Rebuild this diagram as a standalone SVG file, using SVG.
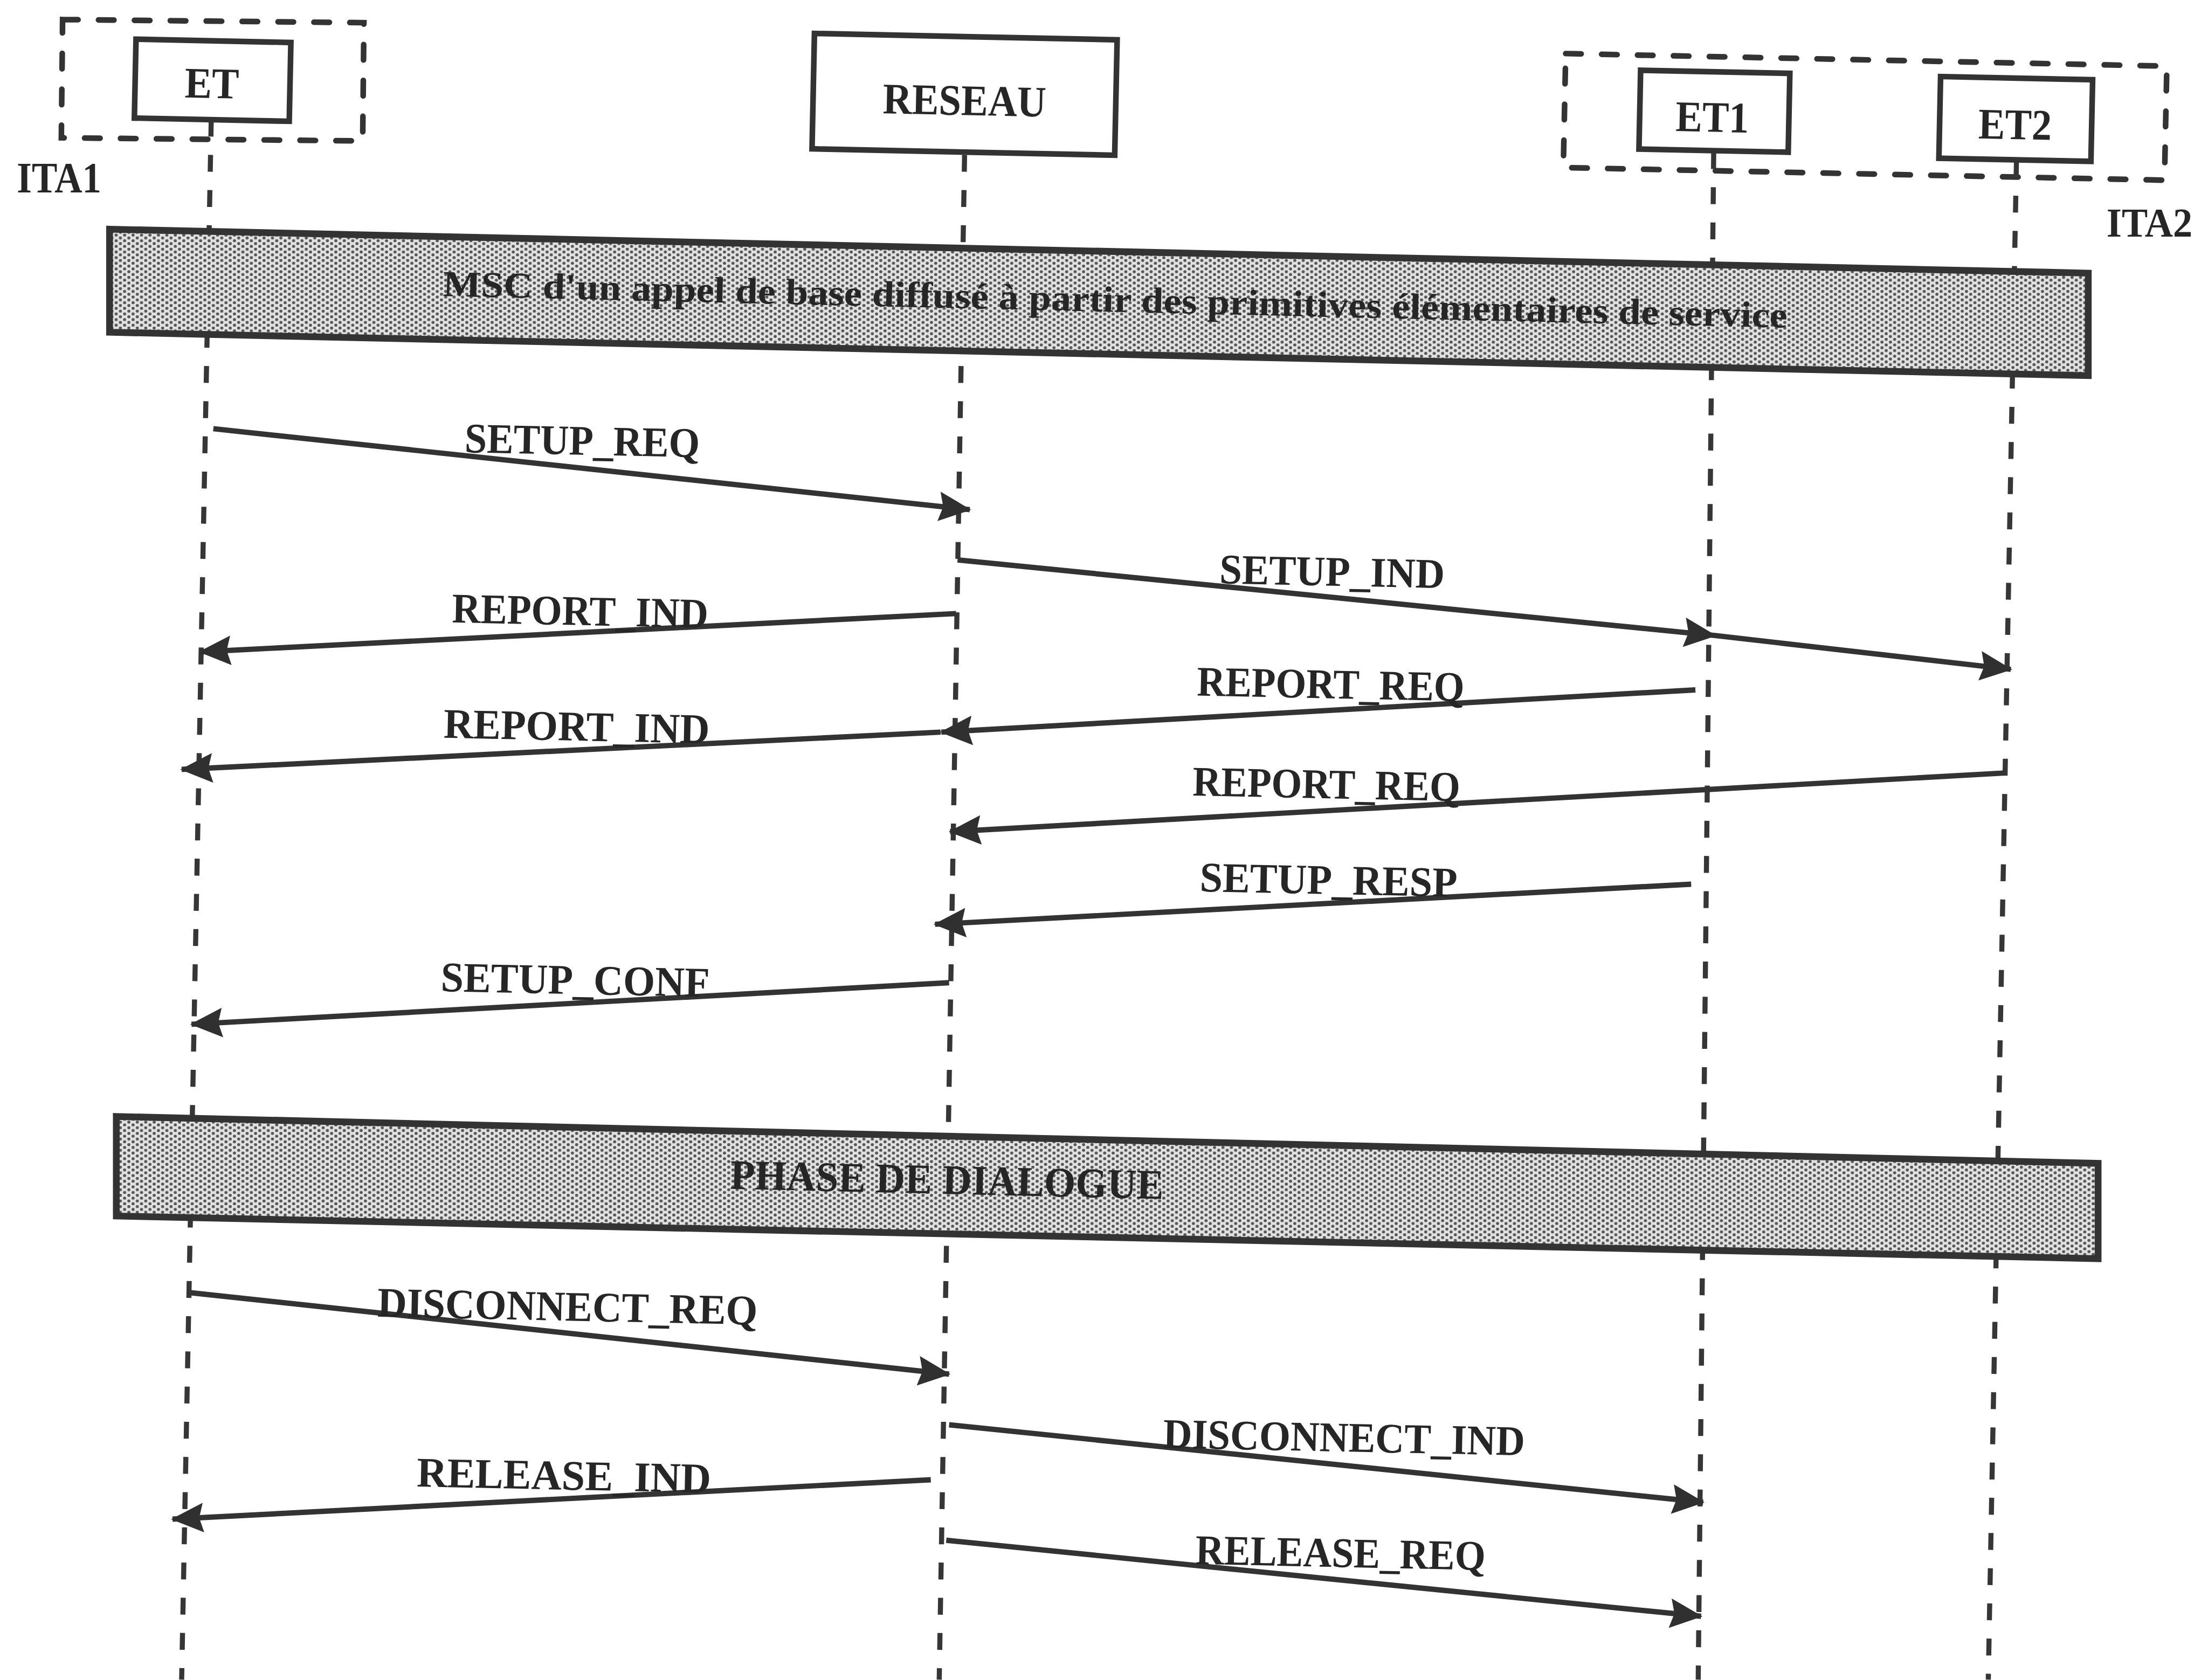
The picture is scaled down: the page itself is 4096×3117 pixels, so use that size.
<svg xmlns="http://www.w3.org/2000/svg" width="4096" height="3117" viewBox="0 0 4096 3117">
<style>
.box{fill:#ffffff;stroke:#333333;stroke-width:4}
.dbox{fill:none;stroke:#333333;stroke-width:4;stroke-dasharray:11 14.5;stroke-linecap:round}
.life{fill:none;stroke:#363636;stroke-width:3.6;stroke-dasharray:12 13}
.msg{fill:none;stroke:#333333;stroke-width:3.8;marker-end:url(#ah)}
.bar{fill:url(#dots);stroke:#333333;stroke-width:4.8;stroke-linejoin:miter}
.t{font-family:"Liberation Serif","Times New Roman",serif;font-weight:bold;fill:#262626}
.node{font-size:31px;text-anchor:middle}
.lab{font-size:30px}
</style>
<defs>
<pattern id="dots" patternUnits="userSpaceOnUse" width="6" height="4">
<rect width="6" height="4" fill="#e2e2e2"/>
<circle cx="1.5" cy="1" r="1.1" fill="#555555"/>
<circle cx="4.5" cy="3" r="1.1" fill="#555555"/>
</pattern>
<marker id="ah" viewBox="0 0 23 21" refX="22" refY="10.5" markerWidth="23" markerHeight="21" markerUnits="userSpaceOnUse" orient="auto">
<path d="M0,0 L23,10.5 L0,21 L3,10.5 z" fill="#303030"/>
</marker>
</defs>
<rect width="4096" height="3117" fill="#ffffff"/>
<g transform="scale(2.6122)">

<g id="ita1">
<rect class="dbox" x="44" y="15" width="214" height="84" transform="rotate(0.6 151 57)"/>
<text class="t" x="12" y="136.6" font-size="31" textLength="60" lengthAdjust="spacingAndGlyphs">ITA1</text>
</g>
<g id="ita2">
<rect class="dbox" x="1111" y="42.5" width="427" height="81" transform="rotate(1.2 1324.5 83)"/>
<text class="t" x="1496" y="168" font-size="29" textLength="61" lengthAdjust="spacingAndGlyphs">ITA2</text>
</g>

<g id="et">
<line class="life" x1="150" y1="85" x2="129" y2="1193"/>
<rect class="box" x="96" y="29" width="110" height="56" transform="rotate(1.2 151 57)"/>
<text class="t node" x="150.5" y="69.6" textLength="38.5" lengthAdjust="spacingAndGlyphs" transform="rotate(1.2 150.5 60)">ET</text>
</g>
<g id="reseau">
<line class="life" x1="685" y1="110" x2="667" y2="1193"/>
<rect class="box" x="577.5" y="26" width="215" height="82" transform="rotate(1.2 685 67)"/>
<text class="t node" x="685" y="81.7" textLength="116" lengthAdjust="spacingAndGlyphs" transform="rotate(1.2 685 72)">RESEAU</text>
</g>
<g id="et1">
<line class="life" x1="1217" y1="108" x2="1206" y2="1193"/>
<rect class="box" x="1164.5" y="51" width="106" height="56" transform="rotate(1.2 1217.5 79)"/>
<text class="t node" x="1216" y="93.6" textLength="52" lengthAdjust="spacingAndGlyphs" transform="rotate(1.2 1216 84)">ET1</text>
</g>
<g id="et2">
<line class="life" x1="1432" y1="114" x2="1412" y2="1193"/>
<rect class="box" x="1377.5" y="55.5" width="108" height="58" transform="rotate(1.2 1431.5 84.5)"/>
<text class="t node" x="1431" y="98.8" textLength="52" lengthAdjust="spacingAndGlyphs" transform="rotate(1.2 1431 89)">ET2</text>
</g>

<g id="bar-msc">
<polygon class="bar" points="77.8,162.8 1483,194 1483,266.8 77.8,236"/>
<text class="t" x="792" y="221.5" font-size="26" text-anchor="middle" textLength="955" lengthAdjust="spacingAndGlyphs" transform="rotate(1.35 792 213)">MSC d'un appel de base diffusé à partir des primitives élémentaires de service</text>
</g>
<g id="bar-dialogue">
<polygon class="bar" points="82.6,793 1490,826.3 1490,894 82.6,863.7"/>
<text class="t" x="672.5" y="848" font-size="30" text-anchor="middle" textLength="308" lengthAdjust="spacingAndGlyphs" transform="rotate(1.35 672.5 838)">PHASE DE DIALOGUE</text>
</g>

<g id="connectors">
<path class="msg" d="M151.5,304.5 L688.7,362"/>
<path class="msg" d="M680,397.7 L1218,451.4 L1428,475.4" style="marker-mid:url(#ah)"/>
<path class="msg" d="M679,435.8 L142,463"/>
<path class="msg" d="M1204,490 L668.5,520"/>
<path class="msg" d="M668,520 L129,546.5"/>
<path class="msg" d="M1424,549 L674.7,590.7"/>
<path class="msg" d="M1201,628 L664,656.5"/>
<path class="msg" d="M674,698 L136,727.5"/>
<path class="msg" d="M133.7,918 L674,976"/>
<path class="msg" d="M674,1012 L1209.5,1067"/>
<path class="msg" d="M661,1051 L122.5,1079"/>
<path class="msg" d="M672,1094 L1208,1148"/>
</g>

<g id="labels">
<text class="t lab" x="330" y="323" textLength="167" lengthAdjust="spacingAndGlyphs" transform="rotate(1.2 413 314)">SETUP_REQ</text>
<text class="t lab" x="866" y="416" textLength="160" lengthAdjust="spacingAndGlyphs" transform="rotate(1.2 946 407)">SETUP_IND</text>
<text class="t lab" x="321" y="444" textLength="182" lengthAdjust="spacingAndGlyphs" transform="rotate(1.2 412 435)">REPORT_IND</text>
<text class="t lab" x="850" y="496" textLength="190" lengthAdjust="spacingAndGlyphs" transform="rotate(1.2 945 487)">REPORT_REQ</text>
<text class="t lab" x="315" y="526" textLength="189" lengthAdjust="spacingAndGlyphs" transform="rotate(1.2 409 517)">REPORT_IND</text>
<text class="t lab" x="847" y="567" textLength="190" lengthAdjust="spacingAndGlyphs" transform="rotate(1.2 942 558)">REPORT_REQ</text>
<text class="t lab" x="852" y="635" textLength="183" lengthAdjust="spacingAndGlyphs" transform="rotate(1.2 943 626)">SETUP_RESP</text>
<text class="t lab" x="313" y="706" textLength="191" lengthAdjust="spacingAndGlyphs" transform="rotate(1.2 408 697)">SETUP_CONF</text>
<text class="t lab" x="268" y="938" textLength="270" lengthAdjust="spacingAndGlyphs" transform="rotate(1.2 403 929)">DISCONNECT_REQ</text>
<text class="t lab" x="826" y="1031" textLength="257" lengthAdjust="spacingAndGlyphs" transform="rotate(1.2 954 1022)">DISCONNECT_IND</text>
<text class="t lab" x="296" y="1058" textLength="209" lengthAdjust="spacingAndGlyphs" transform="rotate(1.2 400 1049)">RELEASE_IND</text>
<text class="t lab" x="849" y="1113" textLength="206" lengthAdjust="spacingAndGlyphs" transform="rotate(1.2 952 1104)">RELEASE_REQ</text>
</g>

</g>
</svg>
